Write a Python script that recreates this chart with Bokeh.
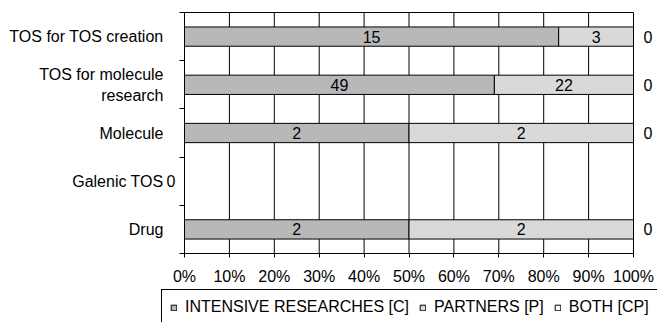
from bokeh.plotting import figure
from bokeh.models import (ColumnDataSource, Range1d, FixedTicker, LinearAxis,
                          Legend, LegendItem)
from bokeh.core.properties import value
from bokeh.embed import file_html
from bokeh.resources import INLINE

# ---- data ----
categories = ["TOS for TOS creation", "TOS for molecule\nresearch", "Molecule", "Galenic TOS", "Drug"]
intensive = [15, 49, 2, 0, 2]
partners = [3, 22, 2, 0, 2]
both = [0, 0, 0, 0, 0]
series_names = ["INTENSIVE RESEARCHES [C]", "PARTNERS [P]", "BOTH [CP]"]
series_colors = ["#b8b8b8", "#d9d9d9", "#ffffff"]
x_ticks = [0, 10, 20, 30, 40, 50, 60, 70, 80, 90, 100]
x_tick_labels = ["0%", "10%", "20%", "30%", "40%", "50%", "60%", "70%", "80%", "90%", "100%"]

FONT = "Liberation Sans"
FS = "16px"

# ---- layout geometry (pixels) ----
W, H = 657, 322
L, R, T, B = 184, 633, 12, 253      # edges of the plotting area

n = len(categories)
ys = [i + 0.5 for i in range(n)]
raw = [intensive, partners, both]
keys = ["C", "P", "CP"]

pct = {k: [] for k in keys}
for i in range(n):
    tot = intensive[i] + partners[i] + both[i]
    for k, arr in zip(keys, raw):
        pct[k].append(100.0 * arr[i] / tot if tot else 0.0)

src = ColumnDataSource(dict(y=ys, C=pct["C"], P=pct["P"], CP=pct["CP"]))

xmin, xmax = x_ticks[0], x_ticks[-1]
px_x = (R - L) / (xmax - xmin)
px_y = (B - T) / n
x_range = Range1d(xmin - L / px_x, xmin + (W - L) / px_x)
y_range = Range1d((H - T) / px_y, -T / px_y)   # flipped: first category on top

p = figure(width=W, height=H, output_backend="svg", toolbar_location=None,
           x_range=x_range, y_range=y_range, min_border=0)
p.outline_line_color = None
p.xgrid.visible = False
p.ygrid.visible = False

# vertical grid lines and top border (behind the bars)
p.segment(x0=x_ticks, y0=[0] * len(x_ticks), x1=x_ticks, y1=[n] * len(x_ticks),
          line_color="black", line_width=1, level="underlay")
p.segment(x0=[xmin], y0=[0], x1=[xmax], y1=[0], line_color="black", line_width=1,
          level="underlay")

renderers = p.hbar_stack(keys, y="y", height=0.4, color=series_colors, line_color="black",
                         line_width=1, source=src)

# in-bar labels; zero labels collected for axes
in_x, in_y, in_t = [], [], []
right_zero = {}
left_zero = {}
for i in range(n):
    tot = intensive[i] + partners[i] + both[i]
    if tot == 0:
        left_zero[ys[i]] = str(tot)
        continue
    cum = 0.0
    for k, arr in zip(keys, raw):
        w = pct[k][i]
        if arr[i] > 0:
            in_x.append(cum + w / 2); in_y.append(ys[i]); in_t.append(str(arr[i]))
        else:
            right_zero[ys[i]] = str(arr[i])
        cum += w

p.text(x="x", y="y", text="t", source=ColumnDataSource(dict(x=in_x, y=in_y, t=in_t)),
       text_align="center", text_baseline="middle", text_font=value(FONT),
       text_font_size=FS, text_color="black")

def style_labels(ax):
    ax.major_label_text_font = FONT
    ax.major_label_text_font_size = FS
    ax.major_label_text_color = "black"

# x axis at the bottom of the rows
xa = p.xaxis[0]
xa.fixed_location = n
xa.bounds = (xmin, xmax)
xa.ticker = FixedTicker(ticks=x_ticks, minor_ticks=[])
xa.major_label_overrides = {t: l for t, l in zip(x_ticks, x_tick_labels)}
xa.major_tick_out = 4
xa.major_tick_in = 0
xa.major_tick_line_color = "black"
xa.minor_tick_line_color = None
xa.axis_line_color = "black"
xa.major_label_standoff = 10
style_labels(xa)

# inner left axis: boundary ticks + the "0" of the empty row
inner = p.yaxis[0]
inner.fixed_location = xmin
inner.bounds = (0, n)
inner.ticker = FixedTicker(ticks=list(left_zero.keys()), minor_ticks=list(range(n + 1)))
inner.major_label_overrides = left_zero
inner.major_tick_line_color = None
inner.major_tick_out = 0
inner.minor_tick_out = 5
inner.minor_tick_in = 0
inner.minor_tick_line_color = "black"
inner.axis_line_color = "black"
inner.major_label_standoff = 4
style_labels(inner)

# outer left axis: category names
outer = LinearAxis(ticker=FixedTicker(ticks=ys, minor_ticks=[]),
                   major_label_overrides={y: c for y, c in zip(ys, categories)},
                   fixed_location=xmin, bounds=(0, n),
                   axis_line_color=None, major_tick_line_color=None, minor_tick_line_color=None,
                   major_tick_out=0, major_tick_in=0, minor_tick_out=0, minor_tick_in=0,
                   major_label_standoff=21)
style_labels(outer)
p.add_layout(outer, "left")

# right axis: zero values of the BOTH series
right = LinearAxis(ticker=FixedTicker(ticks=list(right_zero.keys()), minor_ticks=[]),
                   major_label_overrides=right_zero,
                   fixed_location=xmax, bounds=(0, n),
                   axis_line_color=None, major_tick_line_color=None, minor_tick_line_color=None,
                   major_tick_out=0, major_tick_in=0, minor_tick_out=0, minor_tick_in=0,
                   major_label_standoff=10)
style_labels(right)
p.add_layout(right, "right")

# legend
lg = Legend(items=[LegendItem(label=nm, renderers=[r]) for nm, r in zip(series_names, renderers)])
lg.orientation = "horizontal"
lg.location = (161, -3)
lg.padding = 8
lg.margin = 0
lg.spacing = 10
lg.glyph_width = 7
lg.glyph_height = 7
lg.label_standoff = 8
lg.label_height = 14
lg.label_text_font = FONT
lg.label_text_font_size = FS
lg.label_text_color = "black"
lg.border_line_color = "black"
lg.border_line_alpha = 1
lg.background_fill_alpha = 1
p.add_layout(lg)

open("out.html", "w").write(file_html(p, INLINE))
